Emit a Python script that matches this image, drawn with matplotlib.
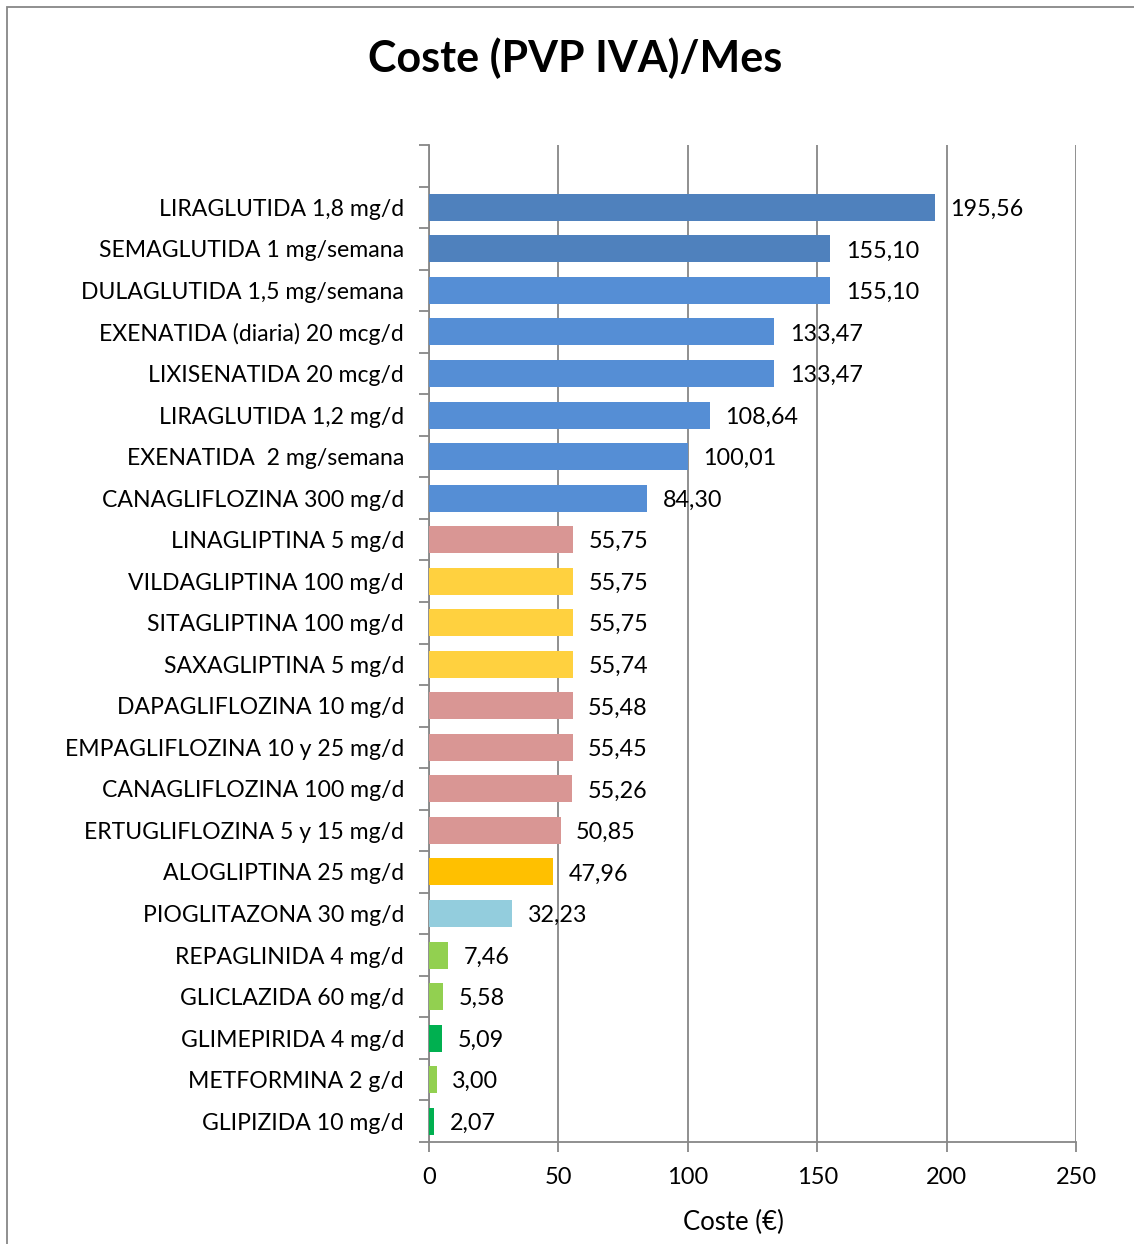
import matplotlib.pyplot as plt
import numpy as np
from matplotlib.patches import Rectangle

plt.rcParams['font.family'] = ['Lato', 'DejaVu Sans']

farmacos = ['LIRAGLUTIDA 1,8 mg/d', 'SEMAGLUTIDA 1 mg/semana', 'DULAGLUTIDA 1,5 mg/semana',
            'EXENATIDA (diaria) 20 mcg/d', 'LIXISENATIDA 20 mcg/d', 'LIRAGLUTIDA 1,2 mg/d',
            'EXENATIDA  2 mg/semana', 'CANAGLIFLOZINA 300 mg/d', 'LINAGLIPTINA 5 mg/d',
            'VILDAGLIPTINA 100 mg/d', 'SITAGLIPTINA 100 mg/d', 'SAXAGLIPTINA 5 mg/d',
            'DAPAGLIFLOZINA 10 mg/d', 'EMPAGLIFLOZINA 10 y 25 mg/d', 'CANAGLIFLOZINA 100 mg/d',
            'ERTUGLIFLOZINA 5 y 15 mg/d', 'ALOGLIPTINA 25 mg/d', 'PIOGLITAZONA 30 mg/d',
            'REPAGLINIDA 4 mg/d', 'GLICLAZIDA 60 mg/d', 'GLIMEPIRIDA 4 mg/d',
            'METFORMINA 2 g/d', 'GLIPIZIDA 10 mg/d']
coste = [195.56, 155.10, 155.10, 133.47, 133.47, 108.64, 100.01, 84.30, 55.75,
         55.75, 55.75, 55.74, 55.48, 55.45, 55.26, 50.85, 47.96, 32.23,
         7.46, 5.58, 5.09, 3.00, 2.07]
colores = ['#4F81BD', '#4F81BD', '#558ED5', '#558ED5', '#558ED5', '#558ED5', '#558ED5', '#558ED5',
           '#D99694', '#FFD13F', '#FFD13F', '#FFD13F', '#D99694', '#D99694', '#D99694', '#D99694',
           '#FFC000', '#93CDDD', '#92D050', '#92D050', '#00B050', '#92D050', '#00B050']

fig = plt.figure(figsize=(11.34, 12.44), dpi=100)
ax = fig.add_axes([0.3783, 0.0820, 0.5706, 0.8014])

n = len(farmacos)
y = np.arange(n)
ax.barh(y, coste, height=0.65, color=colores, zorder=3)

for yi, v in zip(y, coste):
    ax.annotate(f'{v:.2f}'.replace('.', ','), (v, yi), xytext=(11, -1.5), textcoords='offset points',
                va='center', ha='left', fontsize=16.8, zorder=4)

ax.set_xlim(0, 250)
ax.set_ylim(n - 0.5, -1.5)
ax.set_xticks([0, 50, 100, 150, 200, 250])
ax.tick_params(axis='x', labelsize=17, length=7, width=1.3, color='#878787', pad=11)
ax.set_yticks(y)
ax.set_yticklabels(farmacos, fontsize=16.6)
ax.tick_params(axis='y', length=0, pad=18)
ax.set_yticks(np.arange(-1.5, n, 1.0), minor=True)
ax.tick_params(axis='y', which='minor', length=7, width=1.3, color='#878787')

ax.grid(axis='x', color='#878787', linewidth=1.3, zorder=0)
for s in ['top', 'right']:
    ax.spines[s].set_visible(False)
for s in ['left', 'bottom']:
    ax.spines[s].set_color('#878787')
    ax.spines[s].set_linewidth(1.3)

ax.set_xlabel('Coste (€)', fontsize=18.5, labelpad=16, x=0.47)

fig.text(0.507, 0.953, 'Coste (PVP IVA)/Mes', ha='center', va='center',
         fontsize=31, fontweight='bold')

# marco del gráfico
fig.add_artist(Rectangle((0.006, -0.01), 1.2, 1.004, transform=fig.transFigure,
                         fill=False, edgecolor='#878787', linewidth=1.3))

fig.savefig('out.png', dpi=100)
